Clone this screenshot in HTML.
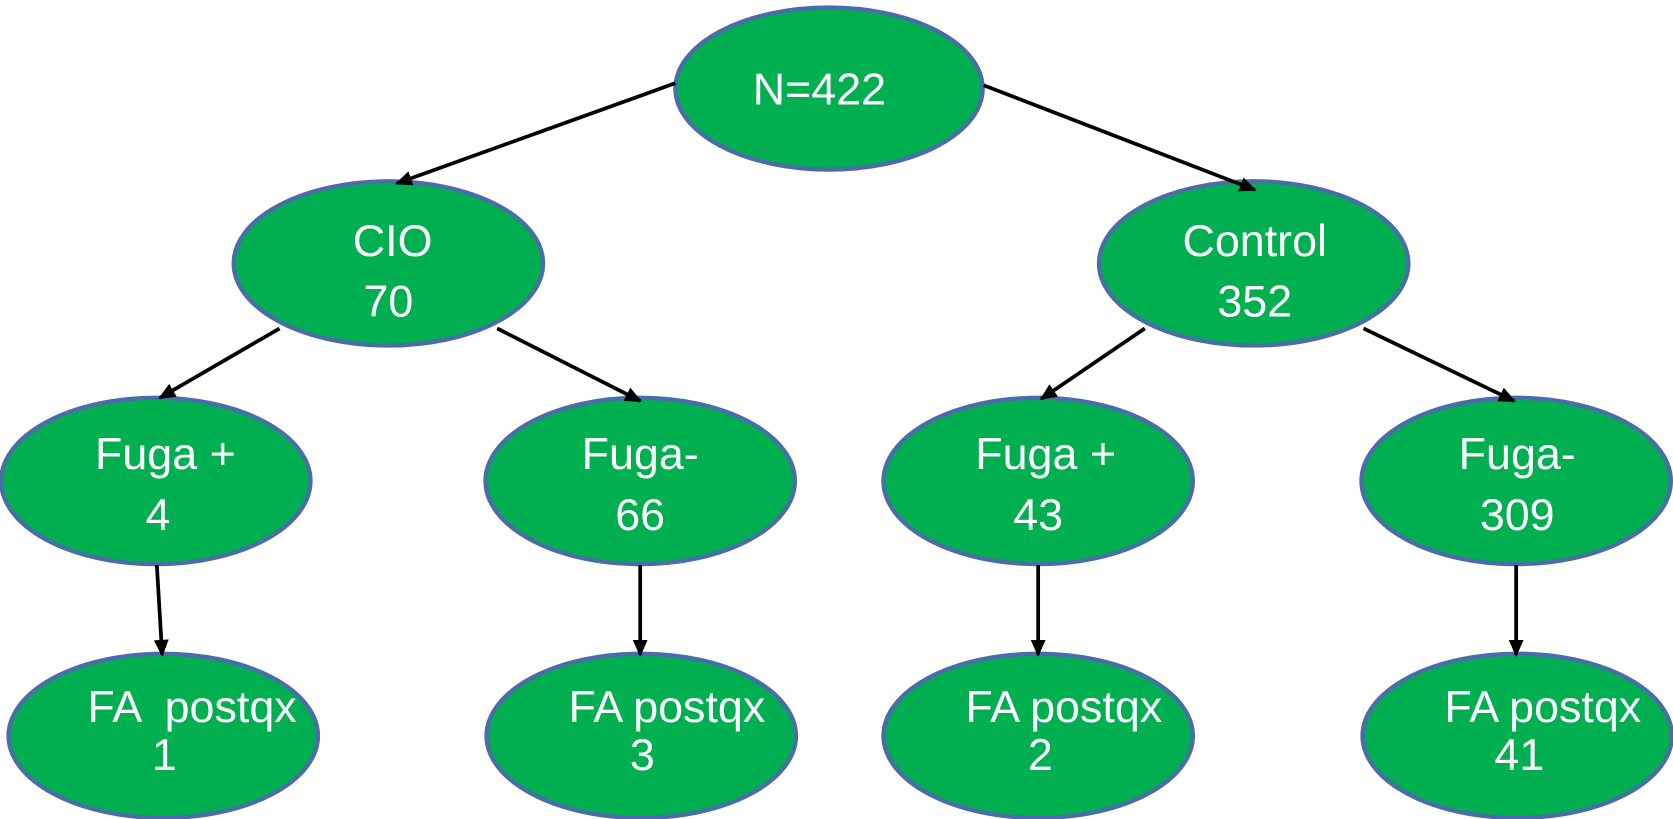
<!DOCTYPE html>
<html><head><meta charset="utf-8"><style>
html,body{margin:0;padding:0;background:#fff;}
svg{display:block;}
text{font-family:"Liberation Sans",Arial,sans-serif;font-size:42px;fill:#fff;text-anchor:middle;}
</style></head><body>
<svg width="1673" height="819" viewBox="0 0 1568 768" preserveAspectRatio="none" xmlns="http://www.w3.org/2000/svg">
<defs>
<marker id="b" markerWidth="16" markerHeight="16" refX="14" refY="8" orient="auto" markerUnits="userSpaceOnUse"><path d="M0,1 L16,8 L0,15 z" fill="#000"/></marker></defs>
<g fill="#00b050" stroke="#4a6ca8" stroke-width="4">
<ellipse cx="777" cy="83" rx="144" ry="76"/>
<ellipse cx="364" cy="247" rx="145" ry="77"/>
<ellipse cx="1175" cy="247" rx="145" ry="77"/>
<ellipse cx="146" cy="451" rx="145" ry="78"/>
<ellipse cx="600" cy="451" rx="145" ry="78"/>
<ellipse cx="973" cy="451" rx="145" ry="78"/>
<ellipse cx="1421" cy="451" rx="145" ry="78"/>
<ellipse cx="153" cy="690" rx="145" ry="77"/>
<ellipse cx="601" cy="690" rx="145" ry="77"/>
<ellipse cx="973" cy="690" rx="145" ry="77"/>
<ellipse cx="1422" cy="690" rx="145" ry="77"/>
</g>
<g stroke="#000" stroke-width="3.5" marker-end="url(#b)">
<line x1="633" y1="78" x2="372" y2="172"/>
<line x1="922" y1="80" x2="1176" y2="178"/>
<line x1="262" y1="308" x2="150" y2="373"/>
<line x1="466" y1="308" x2="600" y2="376"/>
<line x1="1073" y1="308" x2="976" y2="374"/>
<line x1="1278" y1="308" x2="1419" y2="376"/>
<line x1="147" y1="530" x2="152" y2="614"/>
<line x1="600" y1="530" x2="600" y2="614"/>
<line x1="973" y1="530" x2="973" y2="614"/>
<line x1="1421" y1="530" x2="1421" y2="614"/>
</g>
<text x="768" y="98">N=422</text>
<text x="368" y="240">CIO</text><text x="364" y="297">70</text>
<text x="1176" y="240">Control</text><text x="1176" y="297">352</text>
<text x="155" y="440">Fuga +</text><text x="148" y="497">4</text>
<text x="600" y="440">Fuga-</text><text x="600" y="497">66</text>
<text x="980" y="440">Fuga +</text><text x="973" y="497">43</text>
<text x="1422" y="440">Fuga-</text><text x="1422" y="497">309</text>
<text x="180" y="677" xml:space="preserve">FA  postqx</text><text x="154" y="722">1</text>
<text x="625" y="677">FA postqx</text><text x="602" y="722">3</text>
<text x="997" y="677">FA postqx</text><text x="975" y="722">2</text>
<text x="1446" y="677">FA postqx</text><text x="1424" y="722">41</text>
</svg>
</body></html>
